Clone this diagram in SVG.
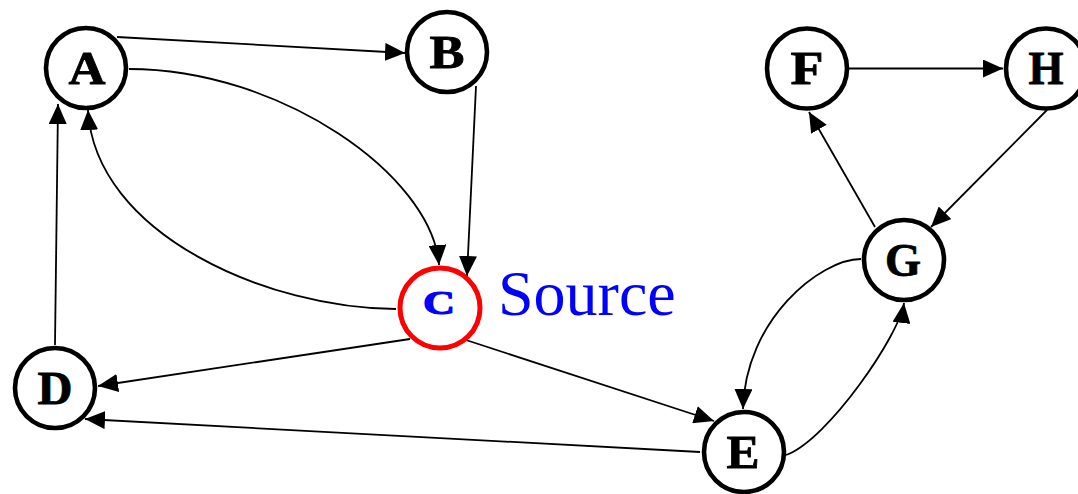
<svg xmlns="http://www.w3.org/2000/svg" width="1078" height="494" viewBox="0 0 1078 494">
<style>
.node circle{fill:#fff;stroke:#000;stroke-width:4.6}
.node text{font-family:"Liberation Serif","Courier New",serif;font-weight:bold;font-size:47px;text-anchor:middle;fill:#000;stroke:#000;stroke-width:0.8}
.edge{fill:none;stroke:#000;stroke-width:1.8;marker-end:url(#arr)}
.src{font-family:"Times New Roman","Liberation Serif",serif;font-size:64px;fill:#0000ff}
</style>
<defs>
<marker id="arr" markerUnits="userSpaceOnUse" markerWidth="20" markerHeight="18" refX="20" refY="9" orient="auto">
<path d="M0,0 L20,9 L0,18 z" fill="#000"/>
</marker>
</defs>
<g id="connectors">
<path class="edge" d="M117,37 L405,53"/>
<path class="edge" d="M129,69 C280,69 432,175 439,265"/>
<path class="edge" d="M476,86 L467,276"/>
<path class="edge" d="M396,309 C270,309 95,235 88,110"/>
<path class="edge" d="M55,345 L58,104"/>
<path class="edge" d="M410,339 L98,386"/>
<path class="edge" d="M700,452 L85,419"/>
<path class="edge" d="M466,340 L714,421"/>
<path class="edge" d="M849,68.5 L1003,68.5"/>
<path class="edge" d="M1047,110 L931,227"/>
<path class="edge" d="M875,227 L809,112"/>
<path class="edge" d="M861,259 C820,259 745,320 743,409"/>
<path class="edge" d="M786,455 C828,440 900,334 904,303"/>
</g>
<g id="node-A" class="node"><circle cx="86" cy="68" r="40"/><text x="87" y="83.5" textLength="37" lengthAdjust="spacingAndGlyphs">A</text></g>
<g id="node-B" class="node"><circle cx="447" cy="52" r="40"/><text x="447" y="67.5" textLength="35" lengthAdjust="spacingAndGlyphs">B</text></g>
<g id="node-C" class="node"><circle cx="440" cy="308" r="40" style="stroke:#ff0000;stroke-width:5"/><text x="439" y="314" textLength="32" lengthAdjust="spacingAndGlyphs" style="fill:#0000ff;stroke:#0000ff;stroke-width:1.2;font-size:34px">C</text></g>
<g id="node-D" class="node"><circle cx="55" cy="388" r="40"/><text x="55" y="404" textLength="35" lengthAdjust="spacingAndGlyphs">D</text></g>
<g id="node-E" class="node"><circle cx="744" cy="452" r="40"/><text x="743" y="468" textLength="33" lengthAdjust="spacingAndGlyphs">E</text></g>
<g id="node-F" class="node"><circle cx="807" cy="68.5" r="40"/><text x="807" y="84" textLength="33" lengthAdjust="spacingAndGlyphs">F</text></g>
<g id="node-G" class="node"><circle cx="904" cy="260" r="40"/><text x="903" y="276" textLength="36" lengthAdjust="spacingAndGlyphs">G</text></g>
<g id="node-H" class="node"><circle cx="1046" cy="68.5" r="40"/><text x="1046" y="84" textLength="35" lengthAdjust="spacingAndGlyphs">H</text></g>
<text id="label-source" class="src" x="498" y="315">Source</text>
</svg>
